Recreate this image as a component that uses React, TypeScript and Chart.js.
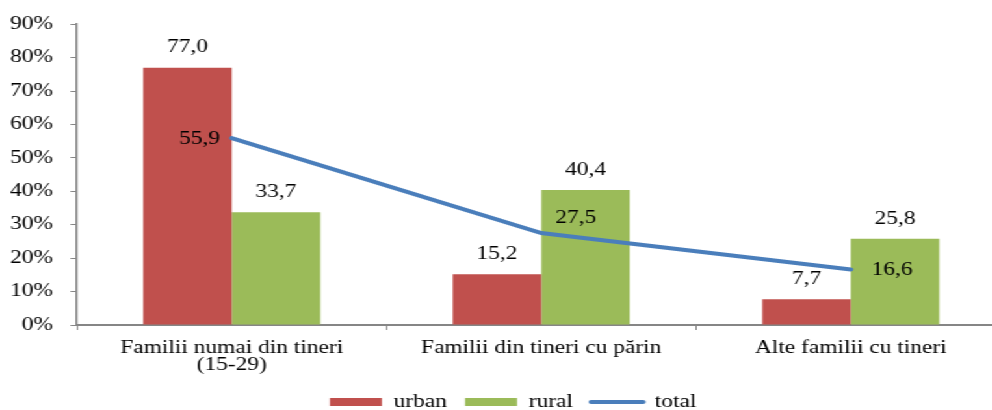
import React, { useEffect, useRef } from 'react';
import { Chart, registerables } from 'chart.js';

Chart.register(...registerables);

const categories: (string | string[])[] = [
  ['Familii numai din tineri', '(15-29)'],
  'Familii din tineri cu părin',
  'Alte familii cu tineri',
];
const urbanValues = [77.0, 15.2, 7.7];
const ruralValues = [33.7, 40.4, 25.8];
const totalValues = [55.9, 27.5, 16.6];
const seriesNames = ['urban', 'rural', 'total'];
const yMin = 0;
const yMax = 90;
const yStep = 10;

const FONT = '"Liberation Serif", "Times New Roman", serif';
const RED = '#C0504D';
const GREEN = '#9BBB59';
const BLUE = '#4A7EBB';
const AXIS = '#868686';

const SCALE_X = 1.3;
const W = 776;
const H = 421;
const AXIS_X = 59.2;
const LEGEND_SHIFT = 8;

const lineLabelOffsets = [
  { dx: -9, dy: 1, align: 'right' as CanvasTextAlign },
  { dx: 11, dy: -15, align: 'left' as CanvasTextAlign },
  { dx: 16, dy: 1, align: 'left' as CanvasTextAlign },
];

const fmt = (v: number) => v.toFixed(1).replace('.', ',');

const valueLabels = {
  id: 'valueLabels',
  afterLayout(chart: any) {
    if (chart.legend) {
      chart.legend.left += LEGEND_SHIFT;
      chart.legend.right += LEGEND_SHIFT;
    }
  },
  afterDatasetsDraw(chart: any) {
    const ctx = chart.ctx as CanvasRenderingContext2D;
    ctx.save();
    ctx.font = `18px ${FONT}`;
    ctx.fillStyle = '#000';
    ctx.textBaseline = 'middle';
    [0, 1].forEach((di) => {
      const meta = chart.getDatasetMeta(di);
      meta.data.forEach((el: any, i: number) => {
        ctx.textAlign = 'center';
        ctx.fillText(fmt(chart.data.datasets[di].data[i]), el.x, el.y - 20);
      });
    });
    const lm = chart.getDatasetMeta(2);
    lm.data.forEach((el: any, i: number) => {
      const o = lineLabelOffsets[i];
      ctx.textAlign = o.align;
      ctx.fillText(fmt(chart.data.datasets[2].data[i]), el.x + o.dx, el.y + o.dy);
    });
    ctx.restore();
  },
};

export default function App() {
  const ref = useRef<HTMLCanvasElement | null>(null);

  useEffect(() => {
    if (!ref.current) return;
    const chart = new Chart(ref.current, {
      type: 'bar',
      data: {
        labels: categories as any,
        datasets: [
          {
            type: 'bar',
            label: seriesNames[0],
            data: urbanValues,
            backgroundColor: RED,
            categoryPercentage: 0.572,
            barPercentage: 1.0,
            order: 1,
          },
          {
            type: 'bar',
            label: seriesNames[1],
            data: ruralValues,
            backgroundColor: GREEN,
            categoryPercentage: 0.572,
            barPercentage: 1.0,
            order: 1,
          },
          {
            type: 'line',
            label: seriesNames[2],
            data: totalValues,
            borderColor: BLUE,
            backgroundColor: BLUE,
            borderWidth: 4,
            pointRadius: 0,
            borderCapStyle: 'round',
            tension: 0,
            order: 0,
          } as any,
        ],
      },
      options: {
        responsive: true,
        maintainAspectRatio: false,
        animation: false,
        layout: { padding: { top: 23, left: 0, right: 2.5, bottom: 0 } },
        plugins: {
          tooltip: { enabled: false },
          legend: {
            position: 'bottom',
            labels: {
              usePointStyle: true,
              pointStyleWidth: 40,
              boxHeight: 8,
              padding: 14,
              color: '#000',
              font: { family: FONT, size: 18 },
              generateLabels: () => [
                { text: seriesNames[0], fillStyle: RED, strokeStyle: RED, lineWidth: 0, pointStyle: 'rect', datasetIndex: 0, hidden: false },
                { text: seriesNames[1], fillStyle: GREEN, strokeStyle: GREEN, lineWidth: 0, pointStyle: 'rect', datasetIndex: 1, hidden: false },
                { text: seriesNames[2], fillStyle: BLUE, strokeStyle: BLUE, lineWidth: 4, lineCap: 'round', pointStyle: 'line', datasetIndex: 2, hidden: false },
              ] as any,
            },
          },
        },
        scales: {
          x: {
            offset: true,
            afterFit: (s: any) => {
              s.height = 54;
            },
            grid: {
              display: true,
              offset: true,
              drawOnChartArea: false,
              drawTicks: true,
              tickLength: 5,
              color: AXIS,
            },
            border: { display: true, color: AXIS, width: 2 },
            ticks: {
              color: '#000',
              padding: 9.5,
              maxRotation: 0,
              autoSkip: false,
              font: { family: FONT, size: 18, lineHeight: 0.95 },
            },
          },
          y: {
            min: yMin,
            max: yMax,
            afterFit: (s: any) => {
              s.width = AXIS_X;
            },
            grid: {
              display: true,
              drawOnChartArea: false,
              drawTicks: true,
              tickLength: 5,
              color: AXIS,
            },
            border: { display: true, color: AXIS, width: 1.5 },
            ticks: {
              stepSize: yStep,
              color: '#000',
              padding: 13.4,
              font: { family: FONT, size: 18 },
              callback: (v: any) => `${v}%`,
            },
          },
        },
      },
      plugins: [valueLabels],
    });
    return () => chart.destroy();
  }, []);

  return (
    <div
      style={{
        position: 'fixed',
        left: 0,
        top: 0,
        width: W,
        height: H,
        transform: `scaleX(${SCALE_X})`,
        transformOrigin: '0 0',
        background: '#fff',
      }}
    >
      <canvas ref={ref} />
    </div>
  );
}
